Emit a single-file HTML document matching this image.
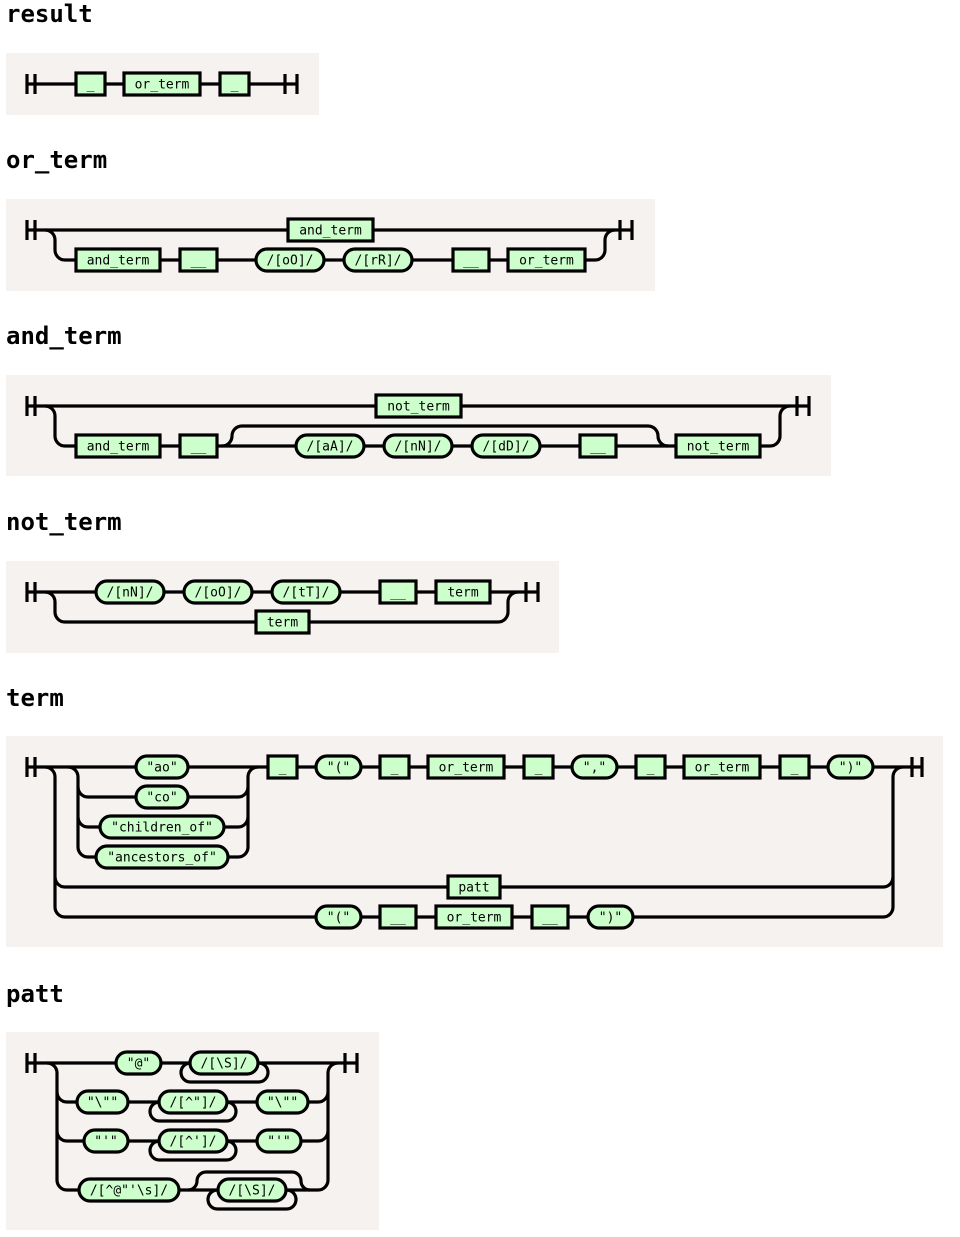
<!DOCTYPE html>
<html><head><meta charset="utf-8"><style>
html,body{margin:0;padding:0;background:#fff;}
svg{display:block;}
.bg{fill:#f5f2ef;}
.l{fill:none;stroke:#000;stroke-width:3.2;}
.n{fill:#ccffcc;stroke:#000;stroke-width:3.2;}
.t{font-family:"DejaVu Sans Mono","Liberation Mono",monospace;font-size:13px;text-anchor:middle;fill:#000;}
.h{font-family:"DejaVu Sans Mono","Liberation Mono",monospace;font-size:24px;font-weight:bold;fill:#000;}
</style></head><body>
<svg width="960" height="1237" viewBox="0 0 960 1237" xmlns="http://www.w3.org/2000/svg">
<!-- result -->
<text class="h" x="6" y="22">result</text>
<rect class="bg" x="6" y="53" width="313" height="62"/>
<path class="l" d="M27,84H297M27,74V94M35,74V94M285,74V94M297,74V94"/>
<rect class="n" x="76" y="73" width="29" height="22"/><text class="t" x="90.5" y="88.5">_</text>
<rect class="n" x="124" y="73" width="76" height="22"/><text class="t" x="162" y="88.5">or_term</text>
<rect class="n" x="220" y="73" width="29" height="22"/><text class="t" x="234.5" y="88.5">_</text>

<!-- or_term -->
<text class="h" x="6" y="168">or_term</text>
<rect class="bg" x="6" y="199" width="649" height="92"/>
<path class="l" d="M27,230H632M27,220V240M35,220V240M620,220V240M632,220V240"/>
<path class="l" d="M45,230a10,10 0 0 1 10,10V250a10,10 0 0 0 10,10H595a10,10 0 0 0 10,-10V240a10,10 0 0 1 10,-10"/>
<rect class="n" x="288" y="219" width="85" height="22"/><text class="t" x="330.5" y="234.5">and_term</text>
<rect class="n" x="76" y="249" width="84" height="22"/><text class="t" x="118" y="264.5">and_term</text>
<rect class="n" x="180" y="249" width="37" height="22"/><text class="t" x="198.5" y="264.5">__</text>
<rect class="n" x="256" y="249" width="68" height="22" rx="11"/><text class="t" x="290" y="264.5">/[oO]/</text>
<rect class="n" x="344" y="249" width="68" height="22" rx="11"/><text class="t" x="378" y="264.5">/[rR]/</text>
<rect class="n" x="453" y="249" width="36" height="22"/><text class="t" x="471" y="264.5">__</text>
<rect class="n" x="508" y="249" width="77" height="22"/><text class="t" x="546.5" y="264.5">or_term</text>

<!-- and_term -->
<text class="h" x="6" y="344">and_term</text>
<rect class="bg" x="6" y="375" width="825" height="101"/>
<path class="l" d="M27,406H809M27,396V416M35,396V416M797,396V416M809,396V416"/>
<path class="l" d="M45,406a10,10 0 0 1 10,10V436a10,10 0 0 0 10,10H770a10,10 0 0 0 10,-10V416a10,10 0 0 1 10,-10"/>
<path class="l" d="M222,446a10,10 0 0 0 10,-10a10,10 0 0 1 10,-10H648a10,10 0 0 1 10,10a10,10 0 0 0 10,10"/>
<rect class="n" x="376" y="395" width="85" height="22"/><text class="t" x="418.5" y="410.5">not_term</text>
<rect class="n" x="76" y="435" width="84" height="22"/><text class="t" x="118" y="450.5">and_term</text>
<rect class="n" x="180" y="435" width="37" height="22"/><text class="t" x="198.5" y="450.5">__</text>
<rect class="n" x="296" y="435" width="68" height="22" rx="11"/><text class="t" x="330" y="450.5">/[aA]/</text>
<rect class="n" x="384" y="435" width="68" height="22" rx="11"/><text class="t" x="418" y="450.5">/[nN]/</text>
<rect class="n" x="472" y="435" width="68" height="22" rx="11"/><text class="t" x="506" y="450.5">/[dD]/</text>
<rect class="n" x="580" y="435" width="36" height="22"/><text class="t" x="598" y="450.5">__</text>
<rect class="n" x="676" y="435" width="84" height="22"/><text class="t" x="718" y="450.5">not_term</text>

<!-- not_term -->
<text class="h" x="6" y="530">not_term</text>
<rect class="bg" x="6" y="561" width="553" height="92"/>
<path class="l" d="M27,592H538M27,582V602M35,582V602M526,582V602M538,582V602"/>
<path class="l" d="M45,592a10,10 0 0 1 10,10V612a10,10 0 0 0 10,10H498a10,10 0 0 0 10,-10V602a10,10 0 0 1 10,-10"/>
<rect class="n" x="96" y="581" width="68" height="22" rx="11"/><text class="t" x="130" y="596.5">/[nN]/</text>
<rect class="n" x="184" y="581" width="68" height="22" rx="11"/><text class="t" x="218" y="596.5">/[oO]/</text>
<rect class="n" x="272" y="581" width="68" height="22" rx="11"/><text class="t" x="306" y="596.5">/[tT]/</text>
<rect class="n" x="380" y="581" width="36" height="22"/><text class="t" x="398" y="596.5">__</text>
<rect class="n" x="436" y="581" width="54" height="22"/><text class="t" x="463" y="596.5">term</text>
<rect class="n" x="256" y="611" width="53" height="22"/><text class="t" x="282.5" y="626.5">term</text>

<!-- term -->
<text class="h" x="6" y="706">term</text>
<rect class="bg" x="6" y="736" width="937" height="211"/>
<path class="l" d="M27,767H922M27,757V777M35,757V777M912,757V777M922,757V777"/>
<path class="l" d="M45,767a10,10 0 0 1 10,10V907a10,10 0 0 0 10,10H883a10,10 0 0 0 10,-10V777a10,10 0 0 1 10,-10"/>
<path class="l" d="M55,877a10,10 0 0 0 10,10H883a10,10 0 0 0 10,-10"/>
<path class="l" d="M68,767a10,10 0 0 1 10,10V847a10,10 0 0 0 10,10H238a10,10 0 0 0 10,-10V777a10,10 0 0 1 10,-10"/>
<path class="l" d="M78,787a10,10 0 0 0 10,10H238a10,10 0 0 0 10,-10M78,817a10,10 0 0 0 10,10H238a10,10 0 0 0 10,-10"/>
<rect class="n" x="136" y="756" width="52" height="22" rx="11"/><text class="t" x="162" y="771.5">"ao"</text>
<rect class="n" x="136" y="786" width="52" height="22" rx="11"/><text class="t" x="162" y="801.5">"co"</text>
<rect class="n" x="100" y="816" width="124" height="22" rx="11"/><text class="t" x="162" y="831.5">"children_of"</text>
<rect class="n" x="96" y="846" width="132" height="22" rx="11"/><text class="t" x="162" y="861.5">"ancestors_of"</text>
<rect class="n" x="268" y="756" width="29" height="22"/><text class="t" x="282.5" y="771.5">_</text>
<rect class="n" x="316" y="756" width="45" height="22" rx="11"/><text class="t" x="338.5" y="771.5">"("</text>
<rect class="n" x="380" y="756" width="29" height="22"/><text class="t" x="394.5" y="771.5">_</text>
<rect class="n" x="428" y="756" width="76" height="22"/><text class="t" x="466" y="771.5">or_term</text>
<rect class="n" x="524" y="756" width="29" height="22"/><text class="t" x="538.5" y="771.5">_</text>
<rect class="n" x="572" y="756" width="45" height="22" rx="11"/><text class="t" x="594.5" y="771.5">","</text>
<rect class="n" x="636" y="756" width="29" height="22"/><text class="t" x="650.5" y="771.5">_</text>
<rect class="n" x="684" y="756" width="76" height="22"/><text class="t" x="722" y="771.5">or_term</text>
<rect class="n" x="780" y="756" width="29" height="22"/><text class="t" x="794.5" y="771.5">_</text>
<rect class="n" x="828" y="756" width="45" height="22" rx="11"/><text class="t" x="850.5" y="771.5">")"</text>
<rect class="n" x="448" y="876" width="52" height="22"/><text class="t" x="474" y="891.5">patt</text>
<rect class="n" x="316" y="906" width="45" height="22" rx="11"/><text class="t" x="338.5" y="921.5">"("</text>
<rect class="n" x="380" y="906" width="36" height="22"/><text class="t" x="398" y="921.5">__</text>
<rect class="n" x="436" y="906" width="76" height="22"/><text class="t" x="474" y="921.5">or_term</text>
<rect class="n" x="532" y="906" width="36" height="22"/><text class="t" x="550" y="921.5">__</text>
<rect class="n" x="588" y="906" width="45" height="22" rx="11"/><text class="t" x="610.5" y="921.5">")"</text>

<!-- patt -->
<text class="h" x="6" y="1002">patt</text>
<rect class="bg" x="6" y="1032" width="373" height="198"/>
<path class="l" d="M27,1063H357M27,1053V1073M35,1053V1073M345,1053V1073M357,1053V1073"/>
<path class="l" d="M47,1063a10,10 0 0 1 10,10V1180a10,10 0 0 0 10,10H318a10,10 0 0 0 10,-10V1073a10,10 0 0 1 10,-10"/>
<path class="l" d="M57,1092a10,10 0 0 0 10,10H318a10,10 0 0 0 10,-10M57,1131a10,10 0 0 0 10,10H318a10,10 0 0 0 10,-10"/>
<path class="l" d="M188,1190a9,9 0 0 0 9,-9a9,9 0 0 1 9,-9H292a9,9 0 0 1 9,9a9,9 0 0 0 9,9"/>
<rect class="l" x="181" y="1063" width="87" height="19" rx="9.5"/>
<rect class="l" x="150" y="1102" width="86" height="19" rx="9.5"/>
<rect class="l" x="150" y="1141" width="86" height="19" rx="9.5"/>
<rect class="l" x="208" y="1190" width="88" height="19" rx="9.5"/>
<rect class="n" x="116" y="1052" width="45" height="22" rx="11"/><text class="t" x="138.5" y="1067.5">"@"</text>
<rect class="n" x="190" y="1052" width="68" height="22" rx="11"/><text class="t" x="224" y="1067.5">/[\S]/</text>
<rect class="n" x="77" y="1091" width="51" height="22" rx="11"/><text class="t" x="102.5" y="1106.5">"\""</text>
<rect class="n" x="159" y="1091" width="68" height="22" rx="11"/><text class="t" x="193" y="1106.5">/[^"]/</text>
<rect class="n" x="257" y="1091" width="51" height="22" rx="11"/><text class="t" x="282.5" y="1106.5">"\""</text>
<rect class="n" x="84" y="1130" width="44" height="22" rx="11"/><text class="t" x="106" y="1145.5">"'"</text>
<rect class="n" x="159" y="1130" width="68" height="22" rx="11"/><text class="t" x="193" y="1145.5">/[^']/</text>
<rect class="n" x="257" y="1130" width="44" height="22" rx="11"/><text class="t" x="279" y="1145.5">"'"</text>
<rect class="n" x="79" y="1179" width="100" height="22" rx="11"/><text class="t" x="129" y="1194.5">/[^@"'\s]/</text>
<rect class="n" x="218" y="1179" width="68" height="22" rx="11"/><text class="t" x="252" y="1194.5">/[\S]/</text>
</svg>
</body></html>
